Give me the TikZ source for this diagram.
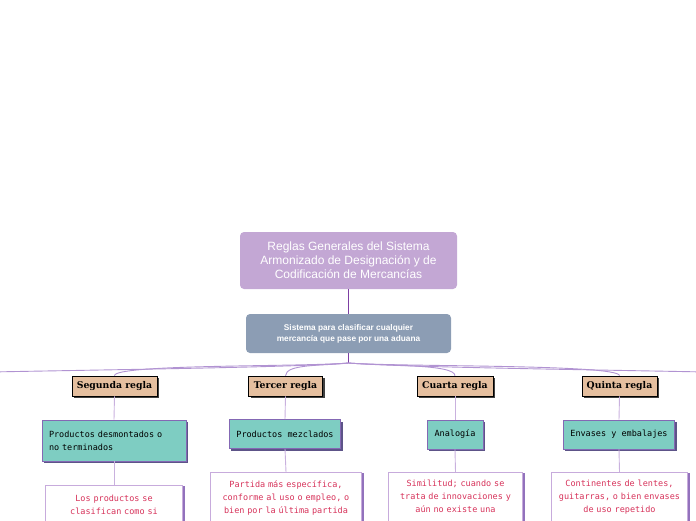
\documentclass[tikz,border=0pt]{standalone}
\usepackage{fontspec}
\newfontfamily\headfont{Liberation Sans}
\newfontfamily\rulefont{DejaVu Serif}
\newfontfamily\notefont{DejaVu Sans Mono}
\usetikzlibrary{
    positioning,
    shadows
}
\definecolor{rootfill}{HTML}{C3A7D4}
\definecolor{infofill}{HTML}{8C9DB4}
\definecolor{rulefill}{HTML}{E5BF9F}
\definecolor{topicfill}{HTML}{7ECDC2}
\definecolor{topicline}{HTML}{8468B4}
\definecolor{topicshade}{HTML}{5D5488}
\definecolor{noteline}{HTML}{C7ABDC}
\definecolor{noteshade}{HTML}{9272BC}
\definecolor{notetext}{HTML}{D7325A}
\definecolor{stemline}{HTML}{7D3FA3}
\definecolor{branchline}{HTML}{B193D2}
\definecolor{linkline}{HTML}{C9B1DE}
\tikzset{
    rootbox/.style = {
        fill = rootfill,
        rounded corners = 4pt,
        minimum width = 217pt,
        minimum height = 57pt,
        align = center,
        text = white,
        font = \headfont\fontsize{12}{14}\selectfont
    },
    infobox/.style = {
        fill = infofill,
        rounded corners = 4pt,
        minimum width = 205pt,
        minimum height = 39pt,
        align = center,
        text = white,
        font = \headfont\bfseries\fontsize{8.3}{11}\selectfont
    },
    rulebox/.style = {
        fill = rulefill,
        draw = black,
        line width = 0.6pt,
        minimum height = 20pt,
        inner xsep = 3pt,
        drop shadow = {shadow xshift = 2pt, shadow yshift = -2pt, fill = black!75, opacity = 1},
        font = \rulefont\bfseries\fontsize{9.3}{10}\selectfont
    },
    topicbox/.style = {
        fill = topicfill,
        draw = topicline,
        line width = 0.6pt,
        minimum height = 29pt,
        inner xsep = 7pt,
        drop shadow = {shadow xshift = 2pt, shadow yshift = -2pt, fill = topicshade, opacity = 1},
        font = \notefont\fontsize{8.5}{13}\selectfont
    },
    notebox/.style = {
        fill = white,
        draw = noteline,
        line width = 0.8pt,
        anchor = north,
        align = center,
        text = notetext,
        inner ysep = 8pt,
        text depth = 60pt,
        drop shadow = {shadow xshift = 2.5pt, shadow yshift = -1pt, fill = noteshade, opacity = 1},
        font = \notefont\fontsize{8.5}{13}\selectfont
    },
    stem/.style = {draw = stemline, line width = 1.2pt},
    branch/.style = {draw = branchline, line width = 0.9pt},
    link/.style = {draw = linkline, line width = 0.9pt}
}

\begin{document}
\begin{tikzpicture}[x = 1pt, y = -1pt]
    \useasboundingbox (0, 0) rectangle (696, 520);
    \clip (0, 0) rectangle (696, 520);

    % main topic
    \node[rootbox] (root) at (348.5, 260.5) {Reglas Generales del Sistema\\Armonizado de Designación y de\\Codificación de Mercancías};
    \node[infobox] (info) at (348.5, 333.5) {Sistema para clasificar cualquier\\mercancía que pase por una aduana};
    \coordinate (hub) at (348.5, 363);
    \coordinate (offleft) at (-10, 372);
    \coordinate (offright) at (706, 372);

    % rules
    \node[rulebox, minimum width = 85pt] (segunda) at (114.5, 386) {Segunda regla};
    \node[rulebox, minimum width = 74pt] (tercer) at (285.5, 386) {Tercer regla};
    \node[rulebox, minimum width = 76pt] (cuarta) at (455, 386) {Cuarta regla};
    \node[rulebox, minimum width = 75pt] (quinta) at (619.5, 386) {Quinta regla};

    % topics
    \node[topicbox, minimum width = 144pt, minimum height = 41pt, text width = 130pt, align = left] (desmontados) at (114, 440.5) {Productos desmontados o\\no terminados};
    \node[topicbox, minimum width = 110pt] (mezclados) at (285, 434) {Productos mezclados};
    \node[topicbox, minimum width = 56pt] (analogia) at (455, 434.5) {Analogía};
    \node[topicbox, minimum width = 110pt] (envases) at (619, 434.5) {Envases y embalajes};

    % notes
    \node[notebox, text width = 130pt, inner ysep = 10pt] (noteA) at (114, 485) {Los productos se\\clasifican como si};
    \node[notebox, text width = 144pt] (noteB) at (286, 472) {Partida más específica,\\conforme al uso o empleo, o\\bien por la última partida};
    \node[notebox, text width = 127pt] (noteC) at (455.5, 472) {Similitud; cuando se\\trata de innovaciones y\\aún no existe una};
    \node[notebox, text width = 129pt] (noteD) at (619.5, 472) {Continentes de lentes,\\guitarras, o bien envases\\de uso repetido};

    % connectors
    \draw[stem] (root.south) -- (info.north);
    \draw[stem] (info.south) -- (hub);
    \draw[branch] (hub) .. controls (300, 367) and (150, 369) .. (offleft);
    \draw[branch] (hub) .. controls (300, 367) and (114, 364) .. (segunda.north);
    \draw[branch] (hub) .. controls (320, 366) and (286, 364) .. (tercer.north);
    \draw[branch] (hub) .. controls (385, 366) and (455, 364) .. (cuarta.north);
    \draw[branch] (hub) .. controls (400, 367) and (619, 364) .. (quinta.north);
    \draw[branch] (hub) .. controls (400, 367) and (550, 369) .. (offright);

    \foreach \rulename/\topicname/\notename in {segunda/desmontados/noteA, tercer/mezclados/noteB, cuarta/analogia/noteC, quinta/envases/noteD} {
        \draw[link] (\rulename.south) -- (\topicname.north);
        \draw[link] (\topicname.south) -- (\notename.north);
    }
\end{tikzpicture}
\end{document}
